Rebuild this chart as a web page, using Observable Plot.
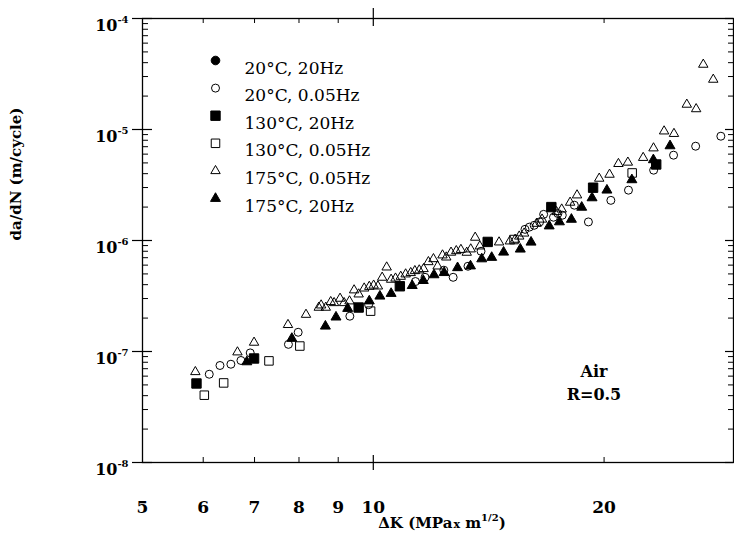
<!DOCTYPE html>
<html><head><meta charset="utf-8">
<script src="https://cdn.jsdelivr.net/npm/d3@7"></script>
<script src="https://cdn.jsdelivr.net/npm/@observablehq/plot@0.6"></script>
<style>
body{margin:0;background:#fff;}
#chart{width:734px;height:536px;}
</style></head><body><div id="chart"></div>
<script>
// ---- data ----
const seriesLabels = ["20°C, 20Hz", "20°C, 0.05Hz", "130°C, 20Hz", "130°C, 0.05Hz", "175°C, 0.05Hz", "175°C, 20Hz"];

const c20_20Hz = []; // no visible points in the reference

const c20_005Hz = [[6.11,6.24e-8],[6.31,7.48e-8],[6.52,7.68e-8],[6.72,8.30e-8],[6.91,9.71e-8],[7.75,1.16e-7],[7.98,1.49e-7],[9.32,2.08e-7],[9.86,2.64e-7],[11.35,4.27e-7],[11.68,4.66e-7],[12.36,5.40e-7],[12.71,4.66e-7],[13.29,5.86e-7],[13.82,8.0e-7],[15.77,1.26e-6],[15.98,1.32e-6],[16.21,1.37e-6],[16.48,1.47e-6],[16.68,1.72e-6],[17.18,1.62e-6],[17.41,1.75e-6],[17.64,1.69e-6],[18.29,2.08e-6],[19.08,1.47e-6],[20.41,2.30e-6],[21.52,2.84e-6],[23.21,4.30e-6],[24.64,5.87e-6],[26.33,7.07e-6],[28.40,8.70e-6]];

const c130_20Hz = [[5.88,5.15e-8],[6.99,8.65e-8],[9.57,2.49e-7],[10.83,3.87e-7],[14.10,9.71e-7],[17.07,2.0e-6],[19.35,2.99e-6],[23.39,4.84e-6]];

const c130_005Hz = [[6.02,4.04e-8],[6.38,5.21e-8],[7.31,8.23e-8],[8.02,1.12e-7],[9.92,2.31e-7],[15.26,1.02e-6],[21.76,4.06e-6]];

const c175_005Hz = [[5.86,6.55e-8],[6.65,9.86e-8],[6.99,1.205e-7],[7.74,1.74e-7],[8.17,2.15e-7],[8.49,2.49e-7],[8.55,2.61e-7],[8.67,2.49e-7],[8.80,2.80e-7],[8.89,2.74e-7],[9.05,3.00e-7],[9.16,2.74e-7],[9.31,2.84e-7],[9.44,3.57e-7],[9.57,3.28e-7],[9.73,3.71e-7],[9.88,3.84e-7],[10.01,3.94e-7],[10.14,3.87e-7],[10.27,4.64e-7],[10.41,5.74e-7],[10.55,4.45e-7],[10.69,4.56e-7],[10.86,4.73e-7],[11.02,4.97e-7],[11.19,5.11e-7],[11.33,5.32e-7],[11.48,5.40e-7],[11.63,5.55e-7],[11.80,6.41e-7],[11.98,6.82e-7],[12.13,5.86e-7],[12.31,7.37e-7],[12.45,7.06e-7],[12.63,7.80e-7],[12.83,8.05e-7],[13.01,8.26e-7],[13.24,7.79e-7],[13.40,8.35e-7],[13.58,1.064e-6],[13.77,8.88e-7],[14.59,9.65e-7],[15.07,9.85e-7],[15.31,1.02e-6],[15.50,1.09e-6],[15.73,1.16e-6],[16.33,1.42e-6],[16.60,1.55e-6],[17.34,1.81e-6],[17.61,1.91e-6],[18.06,2.20e-6],[18.44,2.56e-6],[19.71,3.62e-6],[20.33,3.93e-6],[20.88,4.91e-6],[21.48,5.05e-6],[22.49,5.57e-6],[23.20,6.79e-6],[23.95,9.65e-6],[24.67,9.16e-6],[25.64,1.68e-5],[26.37,1.53e-5],[26.94,3.85e-5],[27.76,2.82e-5]];

const c175_20Hz = [[6.84,8.06e-8],[7.83,1.31e-7],[8.66,1.69e-7],[8.94,2.04e-7],[9.26,2.44e-7],[9.88,2.85e-7],[10.20,3.15e-7],[10.55,3.33e-7],[11.24,3.92e-7],[11.62,4.35e-7],[12.00,4.90e-7],[12.37,5.13e-7],[12.88,5.68e-7],[13.39,5.89e-7],[13.85,6.82e-7],[14.27,7.03e-7],[14.79,7.84e-7],[15.55,8.35e-7],[16.06,9.65e-7],[16.96,1.35e-6],[17.49,1.47e-6],[18.13,1.55e-6],[18.70,1.99e-6],[19.29,2.42e-6],[20.17,2.84e-6],[21.74,3.52e-6],[23.19,5.33e-6],[24.38,7.12e-6]];

const xTickValues = [5, 6, 7, 8, 9, 10, 20];
const xTickLabels = ["5", "6", "7", "8", "9", "10", "20"];
const xMinorTicks = [6, 7, 8, 9, 20];
const xMajorTicks = [10];
const yDecades = [1e-8, 1e-7, 1e-6, 1e-5, 1e-4];
const yTickLabels = ["10^-8", "10^-7", "10^-6", "10^-5", "10^-4"];
const annotationText = ["Air", "R=0.5"];
const annotationX = [19.4, 19.4];
const annotationY = [6.5e-8, 4.05e-8];
const xTitle = "ΔK (MPa x m^1/2)";
const yTitle = "da/dN (m/cycle)";

// ---- layout ----
const width = 734, height = 536;
const mL = 142, mR = 1, mT = 18, mB = 74;
const W = width - mL - mR, H = height - mT - mB;
const yMinor = yDecades.slice(0, -1).flatMap(d => d3.range(2, 10).map(k => k * d));

const seriesData = [c20_20Hz, c20_005Hz, c130_20Hz, c130_005Hz, c175_005Hz, c175_20Hz];
const styles = [
  {symbol: "circle", fill: "black", r: 4.3},
  {symbol: "circle", fill: "none", r: 4},
  {symbol: "square", fill: "black", r: 5.3},
  {symbol: "square", fill: "none", r: 4.8},
  {symbol: "triangle", fill: "none", r: 3.5},
  {symbol: "triangle", fill: "black", r: 3.7}
];
const drawOrder = [1, 3, 4, 0, 2, 5];

const marks = [];
// ticks
marks.push(Plot.tickY(yDecades, {y: d => d, insetLeft: -10, insetRight: W - 10, stroke: "black", strokeWidth: 1.2}));
marks.push(Plot.tickY(yMinor, {y: d => d, insetRight: W - 6, stroke: "black", strokeWidth: 1}));
marks.push(Plot.tickY(yDecades, {y: d => d, insetLeft: W - 8, stroke: "black", strokeWidth: 1.2}));
marks.push(Plot.tickY(yMinor, {y: d => d, insetLeft: W - 5, stroke: "black", strokeWidth: 1}));
marks.push(Plot.tickX(xMinorTicks, {x: d => d, insetBottom: H - 5, stroke: "black", strokeWidth: 1}));
marks.push(Plot.tickX(xMajorTicks, {x: d => d, insetTop: -10, insetBottom: H - 8, stroke: "black", strokeWidth: 1.2}));
marks.push(Plot.tickX(xMinorTicks, {x: d => d, insetTop: H - 5, stroke: "black", strokeWidth: 1}));
marks.push(Plot.tickX(xMajorTicks, {x: d => d, insetTop: H - 7, insetBottom: -8, stroke: "black", strokeWidth: 1.2}));
marks.push(Plot.frame({stroke: "black", strokeWidth: 1.3}));
// axes labels
marks.push(Plot.axisX({ticks: xTickValues, tickSize: 0, tickPadding: 38, tickFormat: d => xTickLabels[xTickValues.indexOf(d)], fontSize: 17, fontWeight: "bold", label: null}));
marks.push(Plot.axisY({ticks: yDecades, tickSize: 0, tickPadding: 14, tickFormat: d => yTickLabels[yDecades.indexOf(d)], fontSize: 16, fontWeight: "bold", dy: 7, label: null}));
// data
for (const i of drawOrder) {
  const s = styles[i];
  marks.push(Plot.dot(seriesData[i], {x: d => d[0], y: d => d[1], symbol: s.symbol, r: s.r, fill: s.fill, stroke: "black", strokeWidth: 1}));
}
// legend
seriesLabels.forEach((lab, i) => {
  const s = styles[i];
  const dy = 42 + i * 27.6;
  marks.push(Plot.dot([lab], {frameAnchor: "top-left", dx: 73, dy, symbol: s.symbol, r: s.r, fill: s.fill, stroke: "black", strokeWidth: 1}));
  marks.push(Plot.text([lab], {frameAnchor: "top-left", dx: 102, dy: dy + 1, text: d => d, textAnchor: "start", fontSize: 17, fill: "black"}));
});
// annotation
marks.push(Plot.text(annotationText, {x: (d, i) => annotationX[i], y: (d, i) => annotationY[i], text: d => d, fontSize: 16, fontWeight: "bold", fill: "black"}));
// titles
marks.push(Plot.text([xTitle], {frameAnchor: "bottom", dy: 65, dx: 4, text: d => d, fontSize: 15, fontWeight: "bold", fill: "black"}));
marks.push(Plot.text([yTitle], {frameAnchor: "left", dx: -126, rotate: -90, text: d => d, fontSize: 15, fontWeight: "bold", fill: "black"}));

const chart = Plot.plot({
  width, height,
  marginLeft: mL, marginRight: mR, marginTop: mT, marginBottom: mB,
  x: {type: "log", domain: [5, 29.5]},
  y: {type: "log", domain: [1e-8, 1e-4]},
  style: {fontFamily: "'DejaVu Serif', serif", fontSize: "15px", background: "white", color: "black", overflow: "visible"},
  marks
});
document.getElementById("chart").appendChild(chart);

// superscripts (rich text formatting of labels)
const NS = "http://www.w3.org/2000/svg";
function span(txt, attrs) {
  const s = document.createElementNS(NS, "tspan");
  for (const k in attrs) s.setAttribute(k, attrs[k]);
  s.textContent = txt;
  return s;
}
chart.querySelectorAll("text").forEach(t => {
  const txt = t.textContent;
  if (yTickLabels.includes(txt)) {
    const [base, exp] = txt.split("^");
    t.textContent = "";
    t.appendChild(span(base, {}));
    t.appendChild(span(exp, {dy: "-8", "font-size": "10"}));
  } else if (txt === xTitle) {
    t.textContent = "";
    t.appendChild(span("ΔK (MPa", {}));
    t.appendChild(span("x", {"font-size": "11", dx: "1"}));
    t.appendChild(span(" m", {}));
    t.appendChild(span("1/2", {dy: "-7", "font-size": "10"}));
    t.appendChild(span(")", {dy: "7"}));
  }
});
</script></body></html>
